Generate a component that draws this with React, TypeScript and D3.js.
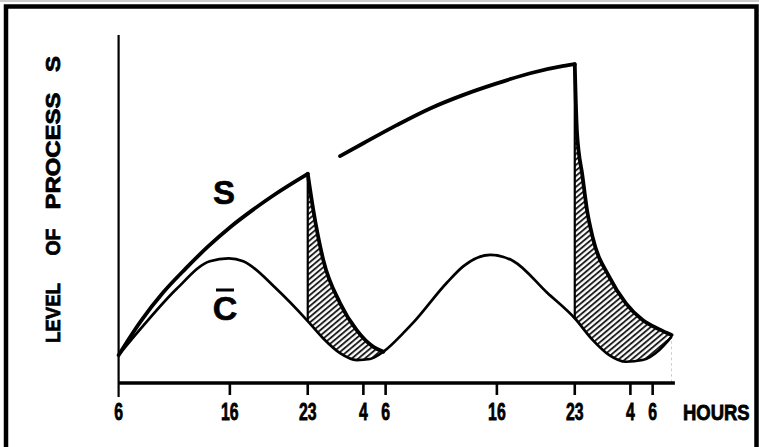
import React from "react";
import * as d3 from "d3";

// Time in hours after the first 06:00; level in arbitrary units (0–100).
const hourTicks = [0, 10, 17, 22, 24, 34, 41, 46, 48];
const hourLabels = ["6", "16", "23", "4", "6", "16", "23", "4", "6"];
const axisEndHour = 50;

// Process S, first waking period
const sRiseDay1: [number, number][] = [
  [0, 8], [2, 17.8], [4, 26], [6, 32.8], [8, 39.1], [10, 44.7],
  [12, 49.6], [14, 54.1], [17, 60.1],
];
// Process S, decline during sleep
const sDecayDay1: [number, number][] = [
  [17, 60.1], [17.5, 49.7], [18.4, 35.3], [19.9, 23.0], [21.4, 15.2],
  [22.9, 10.4], [23.8, 9.0],
];
// Process S, continued wakefulness
const sRiseDay2: [number, number][] = [
  [19.9, 65.2], [22, 68.9], [25, 74.1], [28, 78.9], [31, 82.8],
  [34, 86.1], [37, 89.0], [40, 91.1], [41, 91.6],
];
// Process S, recovery sleep
const sDecayDay2: [number, number][] = [
  [41, 91.6], [41.2, 72], [41.7, 59.3], [42.1, 49.7], [42.6, 42.0],
  [44.1, 30.5], [45.6, 22.9], [47.1, 18.1], [48.6, 15.4], [49.7, 13.8],
];
// Circadian threshold C̄
const cCurve: [number, number][] = [
  [0, 8], [2.2, 16.4], [5.2, 27], [8.2, 35], [9.9, 35.8], [11.2, 35],
  [14.2, 27], [17, 17.8], [18.4, 12.8], [19.9, 8.6], [21.4, 6.6], [22.6, 6.9],
  [23.8, 9.0], [25.6, 14.4], [26.5, 17.4], [29.5, 28.8], [31, 33.6],
  [33.4, 36.8], [35.5, 35], [38.5, 26], [41, 18.6], [42.6, 12.4],
  [44.1, 8.0], [45.6, 6.1], [47.1, 6.6], [48.6, 9.5], [49.7, 13.3],
];
const yLabelWords = ["LEVEL", "OF", "PROCESS", "S"];

const W = 759;
const H = 447;
const FONT = "'Liberation Sans', Arial, Helvetica, sans-serif";

export default function App() {
  const x = d3.scaleLinear().domain([0, axisEndHour]).range([118.6, 674.9]);
  const y = d3.scaleLinear().domain([0, 100]).range([383, 35]);

  const line = d3
    .line<[number, number]>()
    .x((d) => x(d[0]))
    .y((d) => y(d[1]))
    .curve(d3.curveMonotoneX);
  const areaToBase = d3
    .area<[number, number]>()
    .x((d) => x(d[0]))
    .y0(y(0))
    .y1((d) => y(d[1]))
    .curve(d3.curveMonotoneX);

  const cAt = (t: number) => cCurve.find((d) => d[0] === t)![1];
  const drops = [sDecayDay1[0], sDecayDay2[0]];

  // label positions along the y axis (centre, length)
  const yLabelPos: [number, number][] = [
    [313, 60],
    [242, 27],
    [151, 117],
    [64, 16],
  ];

  const tickLen = 12;
  const axisY = y(0);
  const heavy = { stroke: "#000", strokeWidth: 0.8 };

  return (
    <svg
      width={W}
      height={H}
      style={{ position: "fixed", left: 0, top: 0, background: "#fff" }}
    >
      <defs>
        <pattern
          id="hatch"
          patternUnits="userSpaceOnUse"
          width={4.2}
          height={10}
          patternTransform="rotate(50)"
        >
          <rect width={4.2} height={10} fill="#fff" />
          <line x1={1} y1={0} x2={1} y2={10} stroke="#111" strokeWidth={1.8} />
        </pattern>
      </defs>
      <rect x={0} y={0} width={W} height={H} fill="#fff" />
      {/* outer frame */}
      <line x1={0} x2={W} y1={1} y2={1} stroke="#bbb" strokeWidth={1.5} />
      <rect
        x={6}
        y={6.5}
        width={750.5}
        height={520}
        fill="none"
        stroke="#000"
        strokeWidth={4.5}
      />

      {/* hatched sleep regions: area under S decline, then white under C̄ */}
      <path d={areaToBase(sDecayDay1)!} fill="url(#hatch)" />
      <path d={areaToBase(sDecayDay2)!} fill="url(#hatch)" />
      <path d={areaToBase(cCurve)!} fill="#fff" />

      {/* C̄ curve */}
      <path d={line(cCurve)!} fill="none" stroke="#000" strokeWidth={2.7} />

      {/* vertical drops at sleep onset */}
      {drops.map((d, i) => (
        <line
          key={i}
          x1={x(d[0])}
          x2={x(d[0])}
          y1={y(d[1])}
          y2={y(cAt(d[0]))}
          stroke="#000"
          strokeWidth={2.2}
        />
      ))}

      {/* Process S */}
      {[sRiseDay1, sDecayDay1, sRiseDay2, sDecayDay2].map((s, i) => (
        <path
          key={i}
          d={line(s)!}
          fill="none"
          stroke="#000"
          strokeWidth={3.8}
          strokeLinejoin="miter"
          strokeLinecap="round"
        />
      ))}

      {/* axes */}
      <line
        x1={x(0)}
        x2={x(0)}
        y1={y(100)}
        y2={axisY + tickLen + 2}
        stroke="#000"
        strokeWidth={2.2}
      />
      <line
        x1={x(0)}
        x2={x(axisEndHour)}
        y1={axisY}
        y2={axisY}
        stroke="#000"
        strokeWidth={3.6}
      />
      {hourTicks.slice(1).map((t) => (
        <line
          key={t}
          x1={x(t)}
          x2={x(t)}
          y1={axisY}
          y2={axisY + tickLen}
          stroke="#000"
          strokeWidth={2.6}
        />
      ))}
      {hourTicks.map((t, i) => (
        <text
          key={"l" + t}
          transform={`translate(${x(t)},420) scale(0.66,1)`}
          textAnchor="middle"
          fontFamily={FONT}
          fontWeight="bold"
          fontSize={24}
          fill="#000"
          {...heavy}
        >
          {hourLabels[i]}
        </text>
      ))}
      <text
        transform="translate(683,420) scale(0.84,1)"
        fontFamily={FONT}
        fontWeight="bold"
        fontSize={22}
        fill="#000"
        {...heavy}
      >
        HOURS
      </text>

      {/* y-axis title */}
      {yLabelWords.map((w, i) => (
        <text
          key={w + i}
          transform={`translate(52,${yLabelPos[i][0]}) rotate(-90)`}
          textAnchor="middle"
          dominantBaseline="central"
          fontFamily={FONT}
          fontWeight="bold"
          fontSize={21}
          textLength={yLabelPos[i][1]}
          lengthAdjust="spacingAndGlyphs"
          fill="#000"
          {...heavy}
        >
          {w}
        </text>
      ))}

      {/* curve labels */}
      <text
        x={224}
        y={204}
        textAnchor="middle"
        fontFamily={FONT}
        fontWeight="bold"
        fontSize={33}
        fill="#000"
        stroke="#000"
        strokeWidth={0.6}
      >
        S
      </text>
      <text
        x={225}
        y={320}
        textAnchor="middle"
        fontFamily={FONT}
        fontWeight="bold"
        fontSize={34}
        fill="#000"
        stroke="#000"
        strokeWidth={0.6}
      >
        C
      </text>
      <line x1={216} x2={234} y1={290} y2={290} stroke="#000" strokeWidth={3} />
    </svg>
  );
}
